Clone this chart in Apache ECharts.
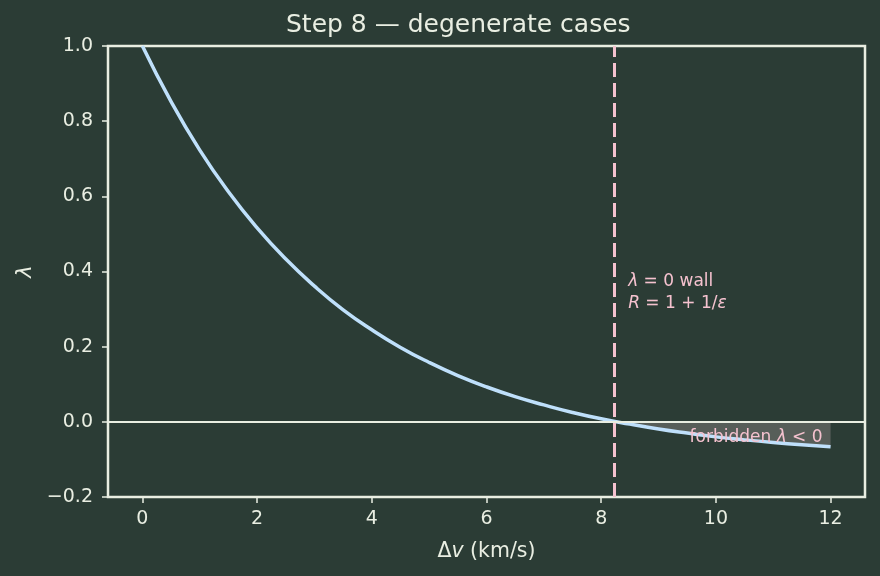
<!DOCTYPE html>
<html>
<head>
<meta charset="utf-8">
<script src="https://cdn.jsdelivr.net/npm/echarts@6/dist/echarts.min.js"></script>
<style>
  html, body { margin: 0; padding: 0; background: #2b3c35; }
  #chart { width: 880px; height: 576px; }
</style>
</head>
<body>
<div id="chart"></div>
<script>
// values
const dv = [0, 0.5, 1, 1.5, 2, 2.5, 3, 3.5, 4, 4.5, 5, 5.5, 6, 6.5, 7, 7.5, 8, 8.5, 9, 9.5, 10, 10.5, 11, 11.5, 12];
const lambda = [1.0, 0.852, 0.723, 0.612, 0.516, 0.433, 0.361, 0.298, 0.245, 0.198, 0.158, 0.123, 0.093, 0.067, 0.045, 0.025, 0.008, -0.006, -0.019, -0.030, -0.040, -0.048, -0.055, -0.061, -0.066];
const wallX = 8.23;
const forbiddenX = [8.23, 8.5, 9, 9.5, 10, 10.5, 11, 11.5, 12];
const forbiddenY = [0, -0.006, -0.019, -0.030, -0.040, -0.048, -0.055, -0.061, -0.066];
const xTicks = [0, 2, 4, 6, 8, 10, 12];

const FG = '#e9eee2';
const PINK = '#f5c2cf';
const FONT = 'DejaVu Sans';

let myChart = echarts.init(document.getElementById('chart'));

myChart.setOption({
    backgroundColor: '#2b3c35',
    animation: false,
    textStyle: { fontFamily: FONT },
    graphic: [{
        type: 'text',
        left: 486 - 200,
        top: 13,
        style: {
            text: 'Step 8 — degenerate cases',
            x: 200,
            align: 'center',
            fill: FG,
            font: '25px "DejaVu Sans"'
        }
    }],
    grid: {
        left: 108,
        right: 15,
        top: 46,
        bottom: 79,
        show: true,
        borderColor: FG,
        borderWidth: 2.5,
        backgroundColor: 'transparent'
    },
    xAxis: {
        type: 'value',
        min: -0.6,
        max: 12.6,
        name: '{n|Δ}{i|v}{n| (km/s)}',
        nameLocation: 'middle',
        nameGap: 44,
        nameTextStyle: {
            rich: {
                n: { fontSize: 20.5, color: FG, fontFamily: FONT },
                i: { fontSize: 20.5, color: FG, fontFamily: FONT, fontStyle: 'italic' }
            }
        },
        splitLine: { show: false },
        axisLine: { show: false, onZero: false },
        axisTick: {
            show: true,
            length: 6,
            customValues: xTicks,
            lineStyle: { color: FG, width: 1.5 }
        },
        axisLabel: {
            customValues: xTicks,
            color: FG,
            fontSize: 19,
            margin: 13
        }
    },
    yAxis: {
        type: 'value',
        min: -0.2,
        max: 1.0,
        interval: 0.2,
        name: 'λ',
        nameLocation: 'middle',
        nameGap: 67,
        nameTextStyle: { color: FG, fontSize: 21, fontStyle: 'italic' },
        splitLine: { show: false },
        axisLine: { show: false, onZero: false },
        axisTick: { show: true, length: 6, lineStyle: { color: FG, width: 1.5 } },
        axisLabel: {
            color: FG,
            fontSize: 19,
            margin: 15,
            formatter: v => (v < 0 ? '\u2212' + Math.abs(v).toFixed(1) : v.toFixed(1))
        }
    },
    series: [
        {
            // forbidden region between curve and zero
            type: 'line',
            data: forbiddenX.map((x, i) => [x, forbiddenY[i]]),
            smooth: true,
            symbol: 'none',
            lineStyle: { width: 0 },
            areaStyle: { color: 'rgba(160, 148, 148, 0.55)', origin: 0 },
            z: 1,
            markPoint: {
                symbol: 'rect',
                symbolSize: 0,
                label: {
                    show: true,
                    align: 'center',
                    verticalAlign: 'middle',
                    position: 'inside',
                    formatter: '{n|forbidden }{i|λ}{n| < 0}',
                    rich: {
                        n: { color: PINK, fontSize: 17, fontFamily: FONT },
                        i: { color: PINK, fontSize: 17, fontFamily: FONT, fontStyle: 'italic' }
                    }
                },
                data: [{ coord: [10.7, -0.042] }]
            }
        },
        {
            type: 'line',
            data: dv.map((x, i) => [x, lambda[i]]),
            smooth: true,
            symbol: 'none',
            lineStyle: { color: '#bfe0fb', width: 3.5 },
            z: 3,
            markLine: {
                silent: true,
                symbol: 'none',
                label: { show: false },
                data: [
                    { yAxis: 0, lineStyle: { color: FG, width: 1.8, type: 'solid' } },
                    { xAxis: wallX, lineStyle: { color: PINK, width: 3, type: [14, 6] } }
                ]
            },
            markPoint: {
                symbol: 'rect',
                symbolSize: 0,
                label: {
                    show: true,
                    position: 'inside',
                    align: 'left',
                    verticalAlign: 'middle',
                    formatter: '{i|λ}{n| = 0 wall}\n{i|R}{n| = 1 + 1/}{i|ε}',
                    lineHeight: 22,
                    rich: {
                        n: { color: PINK, fontSize: 17, fontFamily: FONT, lineHeight: 22 },
                        i: { color: PINK, fontSize: 17, fontFamily: FONT, fontStyle: 'italic', lineHeight: 22 }
                    }
                },
                data: [{ coord: [8.47, 0.345] }]
            }
        }
    ]
});
</script>
</body>
</html>
